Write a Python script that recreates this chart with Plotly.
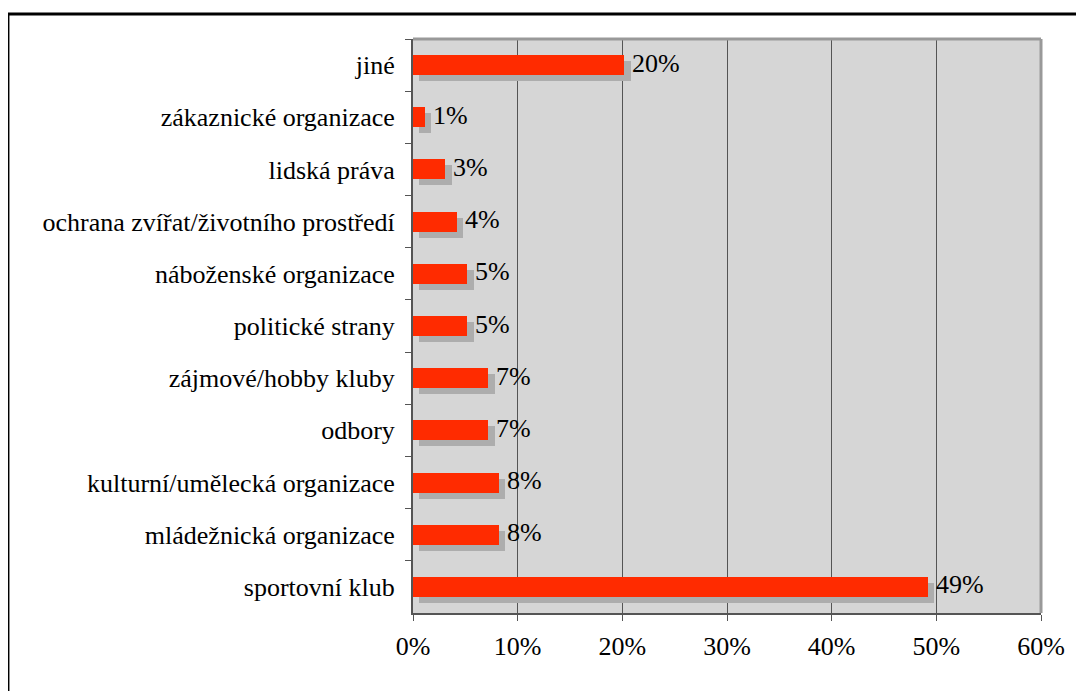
import plotly.graph_objects as go

categories = [
    "jiné",
    "zákaznické organizace",
    "lidská práva",
    "ochrana zvířat/životního prostředí",
    "náboženské organizace",
    "politické strany",
    "zájmové/hobby kluby",
    "odbory",
    "kulturní/umělecká organizace",
    "mládežnická organizace",
    "sportovní klub",
]
values = [20.2, 1.1, 3.1, 4.2, 5.2, 5.2, 7.2, 7.2, 8.2, 8.2, 49.2]
x_tickvals = [0, 10, 20, 30, 40, 50, 60]
x_ticktext = ["0%", "10%", "20%", "30%", "40%", "50%", "60%"]

FONT = "'Liberation Serif', 'Times New Roman', Times, 'DejaVu Serif', serif"
FS = 26
BAR_W = 0.383
SHADOW_DX = 0.62
SHADOW_DY = 0.115

fig = go.Figure()
fig.add_trace(go.Bar(
    y=categories, x=values, orientation="h",
    base=SHADOW_DX, width=BAR_W, offset=-BAR_W / 2 + SHADOW_DY,
    marker=dict(color="#ADADAD", line=dict(width=0)),
    hoverinfo="skip", showlegend=False,
))
fig.add_trace(go.Bar(
    y=categories, x=values, orientation="h",
    width=BAR_W, offset=-BAR_W / 2,
    marker=dict(color="#FF2B00", line=dict(width=0)),
    showlegend=False,
))

for c, v in zip(categories, values):
    fig.add_annotation(
        x=v, y=c, text=f"{round(v)}%", showarrow=False,
        xanchor="left", yanchor="middle", xshift=6, yshift=2,
        font=dict(family=FONT, size=FS, color="black"),
    )

# plot area top/right border
fig.add_shape(type="line", xref="paper", yref="paper", x0=0, x1=1, y0=1, y1=1,
              line=dict(color="#999999", width=3))
fig.add_shape(type="line", xref="paper", yref="paper", x0=1, x1=1, y0=0, y1=1,
              line=dict(color="#999999", width=3))
# outer black frame
fig.add_shape(type="line", xref="paper", yref="paper", x0=-0.647, x1=1.2,
              y0=1.0436, y1=1.0436, line=dict(color="black", width=3))
fig.add_shape(type="line", xref="paper", yref="paper", x0=-0.645, x1=-0.645,
              y0=1.0436, y1=-0.2, line=dict(color="black", width=3))

fig.update_layout(
    width=1084, height=691,
    margin=dict(l=405, r=51, t=31, b=86),
    paper_bgcolor="white", plot_bgcolor="#D6D6D6",
    barmode="overlay", bargap=0,
    font=dict(family=FONT, size=FS, color="black"),
    xaxis=dict(
        range=[0, 60], tickvals=x_tickvals, ticktext=x_ticktext,
        showgrid=True, gridcolor="#555555", gridwidth=1.3,
        showline=True, linecolor="#555555", linewidth=2,
        ticks="outside", ticklen=6, tickcolor="#555555", tickwidth=1.3,
        ticklabelstandoff=3, zeroline=False, fixedrange=True,
        tickfont=dict(family=FONT, size=FS, color="black"),
    ),
    yaxis=dict(
        type="category", autorange="reversed",
        showgrid=False, showline=True, linecolor="#555555", linewidth=2,
        ticks="outside", ticklen=6, tickcolor="#555555", tickwidth=1.3,
        tickson="boundaries", ticklabelstandoff=11, fixedrange=True,
        tickfont=dict(family=FONT, size=FS, color="black"),
    ),
)

fig.write_html("out.html")
